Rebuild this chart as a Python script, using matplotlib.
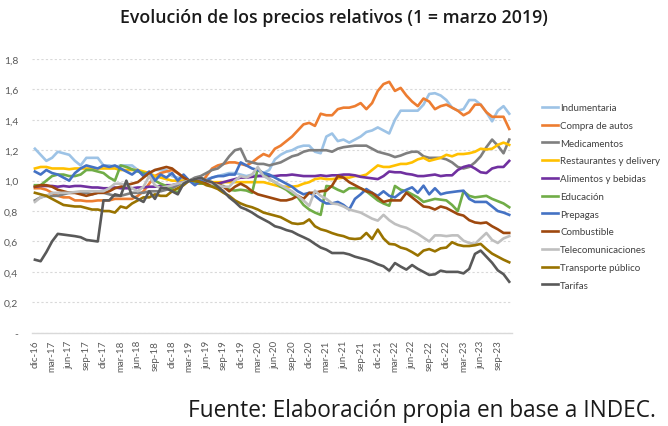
import matplotlib
matplotlib.use("Agg")
import matplotlib.pyplot as plt
import numpy as np

# monthly index, 1 = marzo 2019 (dic-16 ... nov-23)
tick_labels = [
    "dic-16", "mar-17", "jun-17", "sep-17", "dic-17", "mar-18", "jun-18",
    "sep-18", "dic-18", "mar-19", "jun-19", "sep-19", "dic-19", "mar-20",
    "jun-20", "sep-20", "dic-20", "mar-21", "jun-21", "sep-21", "dic-21",
    "mar-22", "jun-22", "sep-22", "dic-22", "mar-23", "jun-23", "sep-23",
]

indumentaria = [
    1.21,
    1.17, 1.13, 1.15, 1.19, 1.18, 1.17, 1.13, 1.10, 1.15, 1.15, 1.15, 1.10,
    1.10, 1.09, 1.10, 1.10, 1.10, 1.07, 1.03, 1.05, 1.07, 1.07, 1.07, 1.03,
    1.02, 1.01, 1.00, 0.99, 1.00, 1.01, 1.02, 1.03, 1.04, 1.05, 1.05, 1.04,
    1.03, 1.04, 1.03, 1.05, 1.07, 1.14, 1.17, 1.19, 1.20, 1.22, 1.23, 1.23,
    1.19, 1.18, 1.29, 1.31, 1.26, 1.27, 1.25, 1.27, 1.29, 1.32, 1.33, 1.35,
    1.33, 1.31, 1.40, 1.46, 1.46, 1.46, 1.46, 1.50, 1.57, 1.575, 1.56, 1.53,
    1.48, 1.46, 1.47, 1.53, 1.53, 1.50, 1.45, 1.39, 1.46, 1.49, 1.44,
]
compra_autos = [
    0.95,
    0.95, 0.94, 0.92, 0.90, 0.89, 0.89, 0.87, 0.87, 0.865, 0.865, 0.87, 0.87,
    0.87, 0.88, 0.88, 0.88, 0.88, 0.90, 0.93, 0.98, 1.03, 1.05, 1.06, 1.07,
    1.05, 1.02, 1.00, 0.98, 0.98, 1.03, 1.08, 1.10, 1.11, 1.12, 1.12, 1.11,
    1.10, 1.12, 1.15, 1.175, 1.16, 1.21, 1.23, 1.26, 1.29, 1.33, 1.37, 1.38,
    1.36, 1.44, 1.43, 1.43, 1.47, 1.48, 1.48, 1.49, 1.51, 1.47, 1.51, 1.59,
    1.635, 1.65, 1.59, 1.61, 1.56, 1.52, 1.49, 1.54, 1.52, 1.47, 1.49, 1.50,
    1.48, 1.46, 1.43, 1.45, 1.50, 1.50, 1.45, 1.42, 1.42, 1.42, 1.34,
]
medicamentos = [
    0.87,
    0.89, 0.90, 0.90, 0.90, 0.91, 0.92, 0.92, 0.92, 0.92, 0.91, 0.92, 0.92,
    0.91, 0.90, 0.90, 0.91, 0.92, 0.92, 0.92, 0.93, 0.93, 0.93, 0.94, 0.95,
    0.97, 0.99, 1.00, 1.02, 1.03, 1.05, 1.07, 1.08, 1.11, 1.16, 1.20, 1.21,
    1.13, 1.12, 1.11, 1.11, 1.10, 1.11, 1.12, 1.14, 1.16, 1.17, 1.19, 1.20,
    1.20, 1.20, 1.20, 1.19, 1.21, 1.22, 1.225, 1.23, 1.23, 1.23, 1.21, 1.19,
    1.18, 1.17, 1.155, 1.165, 1.18, 1.19, 1.19, 1.16, 1.15, 1.15, 1.15, 1.14,
    1.12, 1.09, 1.08, 1.09, 1.12, 1.16, 1.22, 1.27, 1.23, 1.18, 1.27,
]
restaurantes = [
    1.08,
    1.09, 1.09, 1.08, 1.08, 1.08, 1.075, 1.08, 1.08, 1.08, 1.08, 1.08, 1.08,
    1.08, 1.08, 1.07, 1.07, 1.07, 1.07, 1.06, 1.05, 1.03, 1.02, 1.01, 1.00,
    1.00, 1.00, 1.00, 1.00, 1.00, 1.00, 0.99, 0.99, 0.99, 0.99, 0.99, 0.99,
    0.99, 0.99, 0.99, 0.99, 0.98, 0.97, 0.96, 0.96, 0.96, 0.965, 0.98, 0.99,
    1.01, 1.016, 1.01, 1.01, 1.015, 1.02, 1.02, 1.03, 1.03, 1.04, 1.07, 1.10,
    1.09, 1.09, 1.10, 1.11, 1.11, 1.12, 1.14, 1.15, 1.13, 1.14, 1.15, 1.17,
    1.16, 1.175, 1.175, 1.18, 1.19, 1.21, 1.205, 1.21, 1.235, 1.25, 1.235,
]
alimentos = [
    0.96,
    0.965, 0.965, 0.965, 0.96, 0.965, 0.96, 0.965, 0.965, 0.96, 0.955, 0.955, 0.95,
    0.95, 0.955, 0.95, 0.95, 0.95, 0.955, 0.955, 0.96, 0.96, 0.965, 0.97, 0.97,
    0.98, 0.99, 1.00, 1.00, 1.00, 0.99, 0.98, 0.98, 0.99, 1.00, 1.01, 1.02,
    1.02, 1.025, 1.03, 1.03, 1.03, 1.03, 1.035, 1.035, 1.04, 1.035, 1.03, 1.03,
    1.03, 1.035, 1.03, 1.035, 1.035, 1.04, 1.04, 1.035, 1.025, 1.02, 1.015, 1.01,
    1.03, 1.06, 1.055, 1.055, 1.045, 1.04, 1.03, 1.03, 1.035, 1.04, 1.03, 1.035,
    1.035, 1.07, 1.09, 1.10, 1.08, 1.055, 1.05, 1.08, 1.09, 1.09, 1.13,
]
educacion = [
    0.97,
    0.97, 1.00, 1.03, 1.04, 1.04, 1.03, 1.03, 1.04, 1.07, 1.07, 1.06, 1.05,
    1.02, 1.00, 1.10, 1.09, 1.075, 1.06, 1.05, 1.03, 1.00, 0.98, 0.965, 0.94,
    0.92, 0.99, 1.00, 0.99, 0.98, 0.98, 0.97, 0.96, 0.965, 0.94, 0.935, 0.94,
    0.935, 0.92, 1.08, 1.04, 1.01, 0.99, 0.96, 0.94, 0.91, 0.89, 0.84, 0.81,
    0.79, 0.775, 0.965, 0.96, 0.94, 0.925, 0.95, 0.95, 0.95, 0.93, 0.90, 0.87,
    0.85, 0.835, 0.965, 0.94, 0.93, 0.91, 0.89, 0.86, 0.87, 0.88, 0.875, 0.87,
    0.84, 0.80, 0.93, 0.90, 0.89, 0.895, 0.90, 0.88, 0.865, 0.85, 0.825,
]
prepagas = [
    1.06,
    1.04, 1.07, 1.05, 1.04, 1.02, 1.00, 1.05, 1.08, 1.10, 1.09, 1.08, 1.10,
    1.09, 1.10, 1.08, 1.06, 1.04, 1.07, 1.03, 1.06, 1.00, 1.04, 1.02, 1.05,
    1.00, 1.04, 1.00, 0.97, 1.00, 1.00, 1.02, 1.03, 1.03, 1.04, 1.04, 1.12,
    1.10, 1.08, 1.07, 1.05, 1.04, 1.02, 1.00, 0.98, 0.96, 0.93, 0.91, 0.92,
    0.90, 0.87, 0.85, 0.85, 0.86, 0.84, 0.81, 0.88, 0.91, 0.945, 0.92, 0.90,
    0.93, 0.90, 0.89, 0.92, 0.94, 0.956, 0.92, 0.967, 0.91, 0.95, 0.91, 0.92,
    0.925, 0.93, 0.934, 0.88, 0.86, 0.86, 0.86, 0.83, 0.80, 0.79, 0.775,
]
combustible = [
    0.96,
    0.97, 0.97, 0.96, 0.94, 0.93, 0.92, 0.92, 0.91, 0.90, 0.91, 0.92, 0.92,
    0.93, 0.95, 0.96, 0.97, 0.98, 0.99, 1.02, 1.05, 1.07, 1.08, 1.09, 1.08,
    1.05, 1.02, 1.00, 1.00, 0.99, 0.98, 0.98, 0.98, 0.96, 0.93, 0.96, 0.98,
    0.96, 0.93, 0.91, 0.90, 0.89, 0.88, 0.87, 0.87, 0.88, 0.90, 0.88, 0.92,
    0.92, 0.93, 0.934, 0.967, 1.03, 1.02, 0.99, 0.97, 0.95, 0.93, 0.92, 0.89,
    0.86, 0.87, 0.87, 0.87, 0.92, 0.89, 0.86, 0.83, 0.825, 0.81, 0.83, 0.82,
    0.80, 0.78, 0.77, 0.74, 0.725, 0.72, 0.725, 0.70, 0.68, 0.656, 0.656,
]
telecomunicaciones = [
    0.86,
    0.89, 0.90, 0.92, 0.92, 0.92, 0.92, 0.925, 0.93, 0.93, 0.93, 0.93, 0.93,
    0.95, 0.98, 0.98, 0.97, 0.95, 0.93, 0.96, 1.03, 0.97, 0.95, 0.96, 0.97,
    0.98, 0.99, 1.00, 1.01, 1.02, 1.00, 0.98, 0.97, 0.96, 0.96, 1.00, 1.03,
    1.02, 1.04, 1.09, 1.03, 1.01, 0.99, 0.97, 0.95, 0.93, 0.90, 0.87, 0.835,
    0.934, 0.90, 0.88, 0.85, 0.845, 0.83, 0.81, 0.80, 0.79, 0.77, 0.75, 0.737,
    0.775, 0.74, 0.715, 0.70, 0.69, 0.67, 0.65, 0.625, 0.60, 0.64, 0.64, 0.635,
    0.64, 0.64, 0.605, 0.59, 0.584, 0.62, 0.656, 0.61, 0.59, 0.62, 0.635,
]
transporte = [
    0.92,
    0.91, 0.90, 0.88, 0.86, 0.84, 0.835, 0.83, 0.83, 0.82, 0.81, 0.81, 0.80,
    0.80, 0.79, 0.83, 0.82, 0.85, 0.87, 0.89, 0.89, 0.91, 0.90, 0.90, 0.93,
    0.95, 0.97, 1.00, 1.00, 0.99, 0.97, 0.96, 0.945, 0.92, 0.90, 0.87, 0.85,
    0.835, 0.825, 0.81, 0.79, 0.78, 0.77, 0.76, 0.74, 0.72, 0.715, 0.72, 0.745,
    0.70, 0.68, 0.67, 0.655, 0.643, 0.635, 0.62, 0.616, 0.62, 0.656, 0.616, 0.678,
    0.62, 0.584, 0.58, 0.56, 0.55, 0.53, 0.507, 0.54, 0.55, 0.535, 0.555, 0.56,
    0.595, 0.578, 0.57, 0.57, 0.575, 0.584, 0.55, 0.52, 0.50, 0.48, 0.463,
]
tarifas = [
    0.48,
    0.47, 0.53, 0.60, 0.65, 0.645, 0.64, 0.635, 0.628, 0.61, 0.605, 0.60, 0.87,
    0.87, 0.91, 0.90, 1.00, 0.90, 0.88, 0.86, 0.93, 0.88, 0.95, 0.95, 0.93,
    0.91, 0.98, 1.00, 1.01, 1.02, 1.00, 0.99, 0.96, 0.93, 0.89, 0.86, 0.825,
    0.81, 0.79, 0.765, 0.745, 0.725, 0.70, 0.69, 0.675, 0.665, 0.645, 0.628, 0.61,
    0.584, 0.56, 0.546, 0.524, 0.524, 0.524, 0.515, 0.50, 0.49, 0.48, 0.467, 0.45,
    0.437, 0.408, 0.458, 0.435, 0.415, 0.445, 0.42, 0.40, 0.38, 0.384, 0.408, 0.40,
    0.40, 0.40, 0.39, 0.42, 0.518, 0.54, 0.50, 0.46, 0.41, 0.385, 0.335,
]

series = [
    ("Indumentaria", indumentaria, "#9DC3E6"),
    ("Compra de autos", compra_autos, "#ED7D31"),
    ("Medicamentos", medicamentos, "#7F7F7F"),
    ("Restaurantes y delivery", restaurantes, "#FFC000"),
    ("Alimentos y bebidas", alimentos, "#7030A0"),
    ("Educación", educacion, "#70AD47"),
    ("Prepagas", prepagas, "#4472C4"),
    ("Combustible", combustible, "#9E480E"),
    ("Telecomunicaciones", telecomunicaciones, "#BFBFBF"),
    ("Transporte público", transporte, "#997300"),
    ("Tarifas", tarifas, "#595959"),
]

plt.rcParams["font.family"] = ["Lato", "DejaVu Sans"]

fig = plt.figure(figsize=(6.68, 4.27), dpi=100)
ax = fig.add_axes([0.048, 0.2185, 0.7186, 0.641])

x = np.arange(len(indumentaria))
for name, vals, color in series:
    ax.plot(x, vals, color=color, lw=1.9, label=name, solid_joinstyle="round")

ax.set_xlim(-0.5, len(x) - 0.5)
ax.set_ylim(0, 1.8)
yt = np.arange(0, 1.81, 0.2)
ax.set_yticks(yt)
ax.set_yticklabels(["-"] + [f"{v:.1f}".replace(".", ",") for v in yt[1:]],
                   fontsize=7.5, color="#595959")
ax.set_xticks(np.arange(0, len(x), 3))
ax.set_xticklabels(tick_labels, rotation=90, fontsize=7, color="#595959")
ax.tick_params(axis="both", length=0)
ax.tick_params(axis="y", pad=10)
ax.tick_params(axis="x", pad=5)

ax.grid(axis="y", color="#D9D9D9", lw=0.8, ls=(0, (2, 2)))
ax.set_axisbelow(True)
for s in ("top", "right", "left"):
    ax.spines[s].set_visible(False)
ax.spines["bottom"].set_color("#D9D9D9")
ax.spines["bottom"].set_linewidth(1.0)

ax.legend(loc="upper left", bbox_to_anchor=(0.805, 0.765), bbox_transform=fig.transFigure,
          frameon=False, fontsize=7, handlelength=1.7, handletextpad=0.2,
          labelspacing=0.9, borderaxespad=0, labelcolor="#404040")

fig.text(0.5, 0.958, "Evolución de los precios relativos (1 = marzo 2019)",
         ha="center", va="center", fontsize=12.8, fontweight="semibold",
         family=["Open Sans", "DejaVu Sans"], color="#1a1a1a")
fig.text(0.982, 0.037, "Fuente: Elaboración propia en base a INDEC.",
         ha="right", va="center", fontsize=16.3,
         family=["Open Sans", "DejaVu Sans"], color="#1a1a1a")

fig.savefig("out.png", dpi=100)
